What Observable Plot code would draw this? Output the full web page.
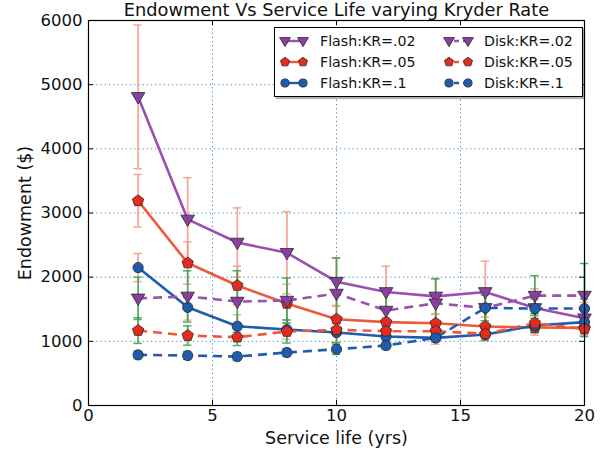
<!DOCTYPE html>
<html><head><meta charset="utf-8">
<script src="https://cdn.jsdelivr.net/npm/d3@7"></script>
<script src="https://cdn.jsdelivr.net/npm/@observablehq/plot@0.6"></script>
<style>
body{margin:0;background:#fff;}
#wrap{position:relative;width:601px;height:452px;font-family:"DejaVu Sans",sans-serif;}
#legend{position:absolute;left:274px;top:27px;width:309px;height:70px;border:1px solid #000;background:#fff;box-shadow:2px 2px 1px rgba(0,0,0,0.3);box-sizing:border-box;}
.item{position:absolute;height:20px;display:flex;align-items:center;font-size:14.2px;color:#111;white-space:nowrap;}
</style>
</head><body>
<div id="wrap"><div id="chart"></div><div id="legend"></div></div>
<script>
const years = [2, 4, 6, 8, 10, 12, 14, 16, 18, 20];
const flash02 = [4810, 2900, 2540, 2380, 1930, 1770, 1700, 1770, 1520, 1360];
const flash05 = [3190, 2220, 1870, 1590, 1345, 1300, 1282, 1231, 1215, 1210];
const flash1  = [2150, 1530, 1235, 1184, 1137, 1075, 1054, 1106, 1246, 1300];
const disk02  = [1670, 1700, 1620, 1636, 1745, 1480, 1593, 1521, 1713, 1713];
const disk05  = [1168, 1090, 1064, 1153, 1179, 1158, 1158, 1116, 1282, 1194];
const disk1   = [789, 779, 763, 826, 877, 935, 1054, 1521, 1511, 1511];
const errFlash02 = [1120, 650, 540, 640, 370, 400, 280, 480, 300, 250];
const errFlash05 = [410, 330, 300, 300, 200, 180, 150, 150, 120, 120];
const errFlash1  = [220, 200, 180, 150, 150, 120, 100, 100, 100, 100];
const errDisk02  = [330, 400, 480, 350, 555, 300, 380, 300, 310, 500];
const errDisk05  = [200, 150, 130, 180, 200, 120, 120, 100, 150, 120];
const errDisk1   = [60, 60, 60, 60, 80, 60, 60, 200, 150, 150];
const seriesNames = ["Flash:KR=.02", "Flash:KR=.05", "Flash:KR=.1", "Disk:KR=.02", "Disk:KR=.05", "Disk:KR=.1"];
const xTicks = [0, 5, 10, 15, 20];
const yTicks = [0, 1000, 2000, 3000, 4000, 5000, 6000];

const triDown = {draw(ctx, size){ const s = Math.sqrt(size) * 0.62; ctx.moveTo(0, s); ctx.lineTo(-s*0.95, -s*0.6); ctx.lineTo(s*0.95, -s*0.6); ctx.closePath(); }};
const pentagon = {draw(ctx, size){ const s = Math.sqrt(size) * 0.56; for (let k = 0; k < 5; k++){ const a = -Math.PI/2 + k*2*Math.PI/5; const px = s*Math.cos(a), py = s*Math.sin(a); if (k===0) ctx.moveTo(px, py); else ctx.lineTo(px, py);} ctx.closePath(); }};
const circ = {draw(ctx, size){ const s = Math.sqrt(size) * 0.5; ctx.moveTo(s, 0); ctx.arc(0, 0, s, 0, 2*Math.PI); }};

const purple = "#9b4fb0", red = "#f0583a", blue = "#1f5cb0";
const styles = [
  {vals: flash02, err: errFlash02, color: purple, fill: "#8a3fa0", sym: triDown, r: 6.5, dash: null, ecol: "#f59a88"},
  {vals: flash05, err: errFlash05, color: red, fill: "#e52a1e", sym: pentagon, r: 6, dash: null, ecol: "#f59a88"},
  {vals: flash1,  err: errFlash1,  color: blue, fill: "#1f5cb0", sym: circ, r: 5.8, dash: null, ecol: "#f59a88"},
  {vals: disk02,  err: errDisk02,  color: purple, fill: "#8a3fa0", sym: triDown, r: 6.5, dash: "9,6", ecol: "#36a04c"},
  {vals: disk05,  err: errDisk05,  color: red, fill: "#e52a1e", sym: pentagon, r: 6, dash: "9,6", ecol: "#36a04c"},
  {vals: disk1,   err: errDisk1,   color: blue, fill: "#1f5cb0", sym: circ, r: 5.8, dash: "9,6", ecol: "#36a04c"}
];

const tables = styles.map((s, k) => years.map((x, i) => ({x, y: s.vals[i], lo: s.vals[i] - s.err[i], hi: s.vals[i] + s.err[i], name: seriesNames[k]})));

const marks = [
  Plot.gridX(xTicks.slice(1, -1), {stroke: "#3a8ccc", strokeOpacity: 1, strokeDasharray: "1.2,3", strokeWidth: 1}),
  Plot.gridY(yTicks.slice(1, -1), {stroke: "#3a8ccc", strokeOpacity: 1, strokeDasharray: "1.2,3", strokeWidth: 1}),
];
styles.forEach((s, k) => {
  const t = tables[k];
  marks.push(Plot.ruleX(t, {x: "x", y1: "lo", y2: "hi", stroke: s.ecol, strokeWidth: 1.8, strokeOpacity: 0.85}));
  marks.push(Plot.ruleY(t, {y: "hi", x1: d => d.x - 0.17, x2: d => d.x + 0.17, stroke: s.ecol, strokeWidth: 1.5, strokeOpacity: 0.85}));
  marks.push(Plot.ruleY(t, {y: "lo", x1: d => d.x - 0.17, x2: d => d.x + 0.17, stroke: s.ecol, strokeWidth: 1.5, strokeOpacity: 0.85}));
});
styles.forEach((s, k) => {
  marks.push(Plot.line(tables[k], {x: "x", y: "y", stroke: s.color, strokeWidth: 2.6, strokeDasharray: s.dash, strokeLinecap: "butt"}));
});
styles.forEach((s, k) => {
  marks.push(Plot.dot(tables[k], {x: "x", y: "y", symbol: s.sym, r: s.r, fill: s.fill, stroke: "#2a2a2a", strokeWidth: 0.8}));
});
marks.push(
  Plot.ruleY(yTicks, {x1: 0, x2: 0.2, stroke: "#000"}),
  Plot.ruleY(yTicks, {x1: 19.8, x2: 20, stroke: "#000"}),
  Plot.ruleX(xTicks, {y1: 0, y2: 80, stroke: "#000"}),
  Plot.ruleX(xTicks, {y1: 5920, y2: 6000, stroke: "#000"}),
  Plot.frame({stroke: "#000", strokeWidth: 1.2}),
  Plot.axisX({ticks: xTicks, tickSize: 0, tickPadding: 4, label: null, fontSize: 16.5, tickFormat: d => String(d)}),
  Plot.axisY({ticks: yTicks, tickSize: 0, tickPadding: 6, label: null, fontSize: 16.5, tickFormat: d => String(d)}),
  Plot.text(["Endowment Vs Service Life varying Kryder Rate"], {frameAnchor: "top", dy: -10.5, lineAnchor: "middle", fontSize: 17.8, fill: "#111"}),
  Plot.text(["Service life (yrs)"], {frameAnchor: "bottom", dy: 33, lineAnchor: "middle", textAnchor: "middle", fontSize: 17.5, fill: "#111"}),
  Plot.text(["Endowment ($)"], {frameAnchor: "left", dx: -63, rotate: -90, lineAnchor: "middle", textAnchor: "middle", fontSize: 17.5, fill: "#111"})
);

const chart = Plot.plot({
  width: 601, height: 452,
  marginLeft: 88, marginRight: 17, marginTop: 20, marginBottom: 47,
  style: {fontFamily: "DejaVu Sans", fontSize: "16px", color: "#111", background: "#fff"},
  x: {domain: [0, 20]},
  y: {domain: [0, 6000]},
  marks
});
document.getElementById("chart").appendChild(chart);

// legend
const legend = document.getElementById("legend");
const cols = [{sx: 3, m1: 7, m2: 25, tx: 45}, {sx: 167, m1: 7, m2: 26, tx: 209}];
const svgNS = "http://www.w3.org/2000/svg";
styles.forEach((s, k) => {
  const col = k < 3 ? 0 : 1, row = k % 3, c = cols[col];
  const div = document.createElement("div");
  div.className = "item";
  div.style.left = c.sx + "px";
  div.style.top = (3 + row * 21) + "px";
  const rr = s.r * 0.8;
  const symPath = d3.symbol(s.sym, Math.PI * rr * rr)();
  const svg = document.createElementNS(svgNS, "svg");
  const sw = c.tx - c.sx - 0;
  svg.setAttribute("width", sw); svg.setAttribute("height", 20);
  const line = document.createElementNS(svgNS, "line");
  line.setAttribute("x1", c.m1); line.setAttribute("x2", c.m2); line.setAttribute("y1", 10); line.setAttribute("y2", 10);
  line.setAttribute("stroke", s.color); line.setAttribute("stroke-width", 2.4);
  if (s.dash) { line.setAttribute("stroke-dasharray", "5,4"); line.setAttribute("stroke-dashoffset", -5); }
  svg.appendChild(line);
  [c.m1, c.m2].forEach(px => {
    const p = document.createElementNS(svgNS, "path");
    p.setAttribute("d", symPath);
    p.setAttribute("transform", `translate(${px},10)`);
    p.setAttribute("fill", s.fill); p.setAttribute("stroke", "#2a2a2a"); p.setAttribute("stroke-width", 0.8);
    svg.appendChild(p);
  });
  div.appendChild(svg);
  const span = document.createElement("span");
  span.textContent = seriesNames[k];
  div.appendChild(span);
  legend.appendChild(div);
});
</script>
</body></html>
